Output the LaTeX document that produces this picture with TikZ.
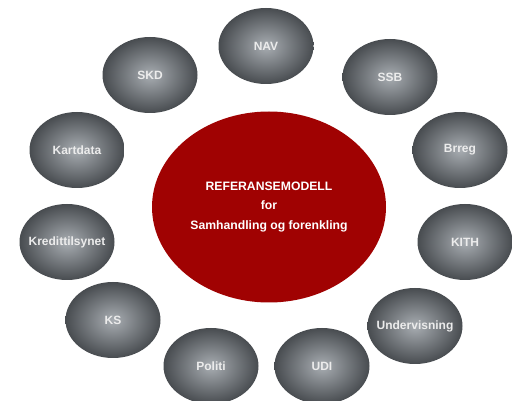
\documentclass[tikz,border=0pt]{standalone}
\usepackage{fontspec}
\setmainfont{Liberation Sans}
\usetikzlibrary{shapes.geometric}
\definecolor{modellred}{RGB}{160,2,2}
\definecolor{etatlys}{RGB}{168,173,178}
\definecolor{etatmork}{RGB}{72,76,80}
\definecolor{etattekst}{RGB}{236,236,236}
\tikzset{
  etat/.style={ellipse,inner ysep=0pt,inner xsep=-14pt,minimum width=95pt,minimum height=76pt,
    inner color=etatlys,outer color=etatmork,text=etattekst,
    font=\bfseries\fontsize{12}{14}\selectfont},
  modell/.style={ellipse,inner sep=0pt,minimum width=234pt,minimum height=191pt,
    fill=modellred,text=white,align=center,
    font=\bfseries\fontsize{12.2}{19.5}\selectfont}
}
\begin{document}
\begin{tikzpicture}[x=1pt,y=-1pt]
  \useasboundingbox (0,0) rectangle (515,401);
  \node[modell] (modell) at (269,207) {REFERANSEMODELL\\for\\Samhandling og forenkling};
  \foreach \x/\y/\n/\t in {266/46/nav/NAV, 390/77/ssb/SSB, 460/150/brreg/Brreg,
      465/242/kith/KITH, 415/326/undervisning/Undervisning, 322/366/udi/UDI,
      211/366/politi/Politi, 113/320/ks/KS, 67/242/kredittilsynet/Kredittilsynet,
      77/150/kartdata/Kartdata, 150/75/skd/SKD}
    \node[etat] (\n) at (\x,\y) {\t};
\end{tikzpicture}
\end{document}
